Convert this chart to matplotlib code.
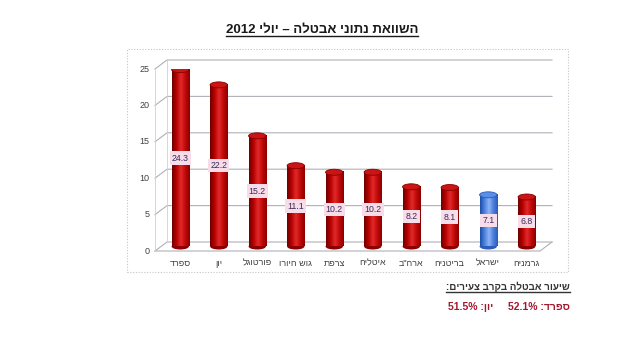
"""Unemployment comparison, July 2012 - cylinder bar chart."""
import matplotlib

matplotlib.use("Agg")
import matplotlib.pyplot as plt
import numpy as np
from matplotlib.colors import LinearSegmentedColormap
from matplotlib.lines import Line2D
from matplotlib.patches import Ellipse, Rectangle
from matplotlib.transforms import IdentityTransform

plt.rcParams["font.family"] = ["Liberation Sans Narrow", "Liberation Sans",
                               "DejaVu Sans"]

countries = ["ספרד", "יון", "פורטוגל", "גוש היורו", "צרפת",
             "איטליה", "ארה\"ב", "בריטניה", "ישראל", "גרמניה"]
rates = [24.3, 22.2, 15.2, 11.1, 10.2, 10.2, 8.2, 8.1, 7.1, 6.8]
highlight = "ישראל"
y_ticks = [0, 5, 10, 15, 20, 25]

title = "השוואת נתוני אבטלה – יולי"
title_year = "2012"
youth_title = "שיעור אבטלה בקרב צעירים"
youth_names = ["ספרד", "יון"]
youth_rates = [52.1, 51.5]


def heb(s):
    # matplotlib lays glyphs out left to right, so flip RTL text by hand
    return s[::-1]


W, H = 620, 350
fig = plt.figure(figsize=(W / 100, H / 100), dpi=100)
fig.patch.set_facecolor("white")

# front plane of the 3-D box: x 155..540 px, y 251 (0) .. 69 (25) px
ax = fig.add_axes([155 / W, (H - 251) / H, 385 / W, 182 / H])
ax.set_xlim(-0.5, 9.5)
ax.set_ylim(0, 25)
ax.axis("off")

# depth of the box, in data units (12 px right, 9 px up)
DX = 12 / 38.5
DY = 9 / 7.28
x0, x1 = -0.5, 9.5
grid_c = "#b0b0b8"

# walls and gridlines
for v in y_ticks:
    ax.plot([x0, x0 + DX, x1 + DX], [v, v + DY, v + DY],
            color=grid_c, lw=0.8, clip_on=False)
ax.plot([x0, x1, x1 + DX], [0, 0, DY], color=grid_c, lw=0.8, clip_on=False)
ax.plot([x0, x0], [0, 25], color="#d0d0d0", lw=0.6, clip_on=False)
ax.plot([x0 + DX, x0 + DX], [DY, 25 + DY], color="#d0d0d0", lw=0.6,
        clip_on=False)

for v in y_ticks:
    ax.text(x0 - 0.15, v, str(v), ha="right", va="center",
            fontsize=6.5, color="#404040")

red_cmap = LinearSegmentedColormap.from_list(
    "red_cyl", ["#6e0000", "#b80000", "#e02a2a", "#c20808", "#8a0000"])
blue_cmap = LinearSegmentedColormap.from_list(
    "blue_cyl", ["#1f4fa8", "#4b82e0", "#8fb4f2", "#4a80de", "#2a5cb8"])

bar_w = 0.45
ell_h = 6 / 7.28
grad = np.linspace(0, 1, 64).reshape(1, -1)

for i, (name, val) in enumerate(zip(countries, rates)):
    is_hl = name == highlight
    cmap = blue_cmap if is_hl else red_cmap
    dark = "#2a5cb8" if is_hl else "#8a0000"
    top_c = "#5b8ee6" if is_hl else "#cc1414"
    xc = i + DX / 2
    base = DY / 2
    top = val + DY / 2

    ax.add_patch(Ellipse((xc, base), bar_w, ell_h, fc=dark, ec="none",
                         zorder=3))
    ax.imshow(grad, cmap=cmap, aspect="auto", zorder=4,
              extent=(xc - bar_w / 2, xc + bar_w / 2, base, top))
    ax.add_patch(Ellipse((xc, top), bar_w, ell_h, fc=top_c, ec=dark,
                         lw=0.6, zorder=5))

    ax.text(xc, val / 2 + DY / 2, f"{val}", ha="center", va="center",
            fontsize=6.3, color="#3b2a55", zorder=6,
            bbox=dict(boxstyle="square,pad=0.25", fc="#f7dde9", ec="none"))
    ax.text(xc, -1.65, heb(name), ha="center", va="center",
            fontsize=6.5, color="#404040")

ax.set_xlim(-0.5, 9.5)
ax.set_ylim(0, 25)

# dotted chart border
fig.add_artist(Rectangle((127 / W, (H - 272) / H), 441 / W, 223 / H,
                         transform=fig.transFigure, fill=False,
                         ec="#c4c4c4", lw=0.8, ls=(0, (1, 1.5))))

t_title = fig.text(322 / W, (H - 30) / H, title_year + " " + heb(title),
                   ha="center", va="center", fontsize=9.5,
                   fontweight="bold", color="#1a1a1a")
t_youth = fig.text(570 / W, (H - 287) / H, ":" + heb(youth_title),
                   ha="right", va="center", fontsize=7,
                   fontweight="bold", color="#333333")

right_edges = [570, 493]
for name, rate, xr in zip(youth_names, youth_rates, right_edges):
    fig.text(xr / W, (H - 307) / H, f"{rate}% :" + heb(name),
             ha="right", va="center", fontsize=7.5, fontweight="bold",
             color="#a3182e")

# underline the two headings
fig.canvas.draw()
for t in (t_title, t_youth):
    bb = t.get_window_extent()
    fig.add_artist(Line2D([bb.x0, bb.x1], [bb.y0 + 0.5, bb.y0 + 0.5],
                          transform=IdentityTransform(),
                          color=t.get_color(), lw=1.0))

fig.savefig("out.png", dpi=100)
